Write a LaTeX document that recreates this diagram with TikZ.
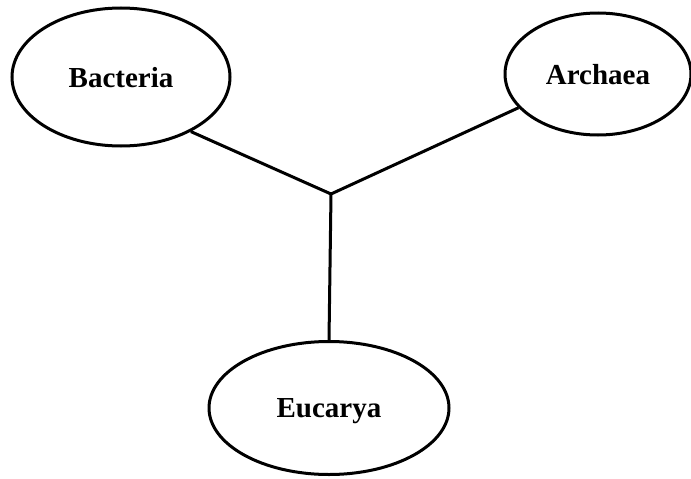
\documentclass[tikz,border=0pt]{standalone}
\usepackage{fontspec}
\setmainfont{Liberation Serif}
\usetikzlibrary{shapes.geometric}
\tikzset{branch/.style={black,line width=3pt}, taxon/.style={ellipse, draw, line width=3pt, inner sep=0pt, text depth=-2pt, font=\fontsize{29}{34}\selectfont\bfseries}}

\begin{document}
\begin{tikzpicture}[x=1pt,y=-1pt]
   \useasboundingbox (0,0) rectangle (691,479);
   \node[taxon, minimum width=218pt, minimum height=138pt] (bact) at (121,77)  {Bacteria};
   \node[taxon, minimum width=186pt, minimum height=122pt] (arch) at (598,74)  {Archaea};
   \node[taxon, minimum width=240pt, minimum height=133pt] (euca) at (329,408) {Eucarya};
   \coordinate (root) at (331,194);
   \draw[branch] (bact.-38)  -- (root);
   \draw[branch] (arch.-157) -- (root);
   \draw[branch] (root) -- (euca.north);
  \end{tikzpicture}
\end{document}
